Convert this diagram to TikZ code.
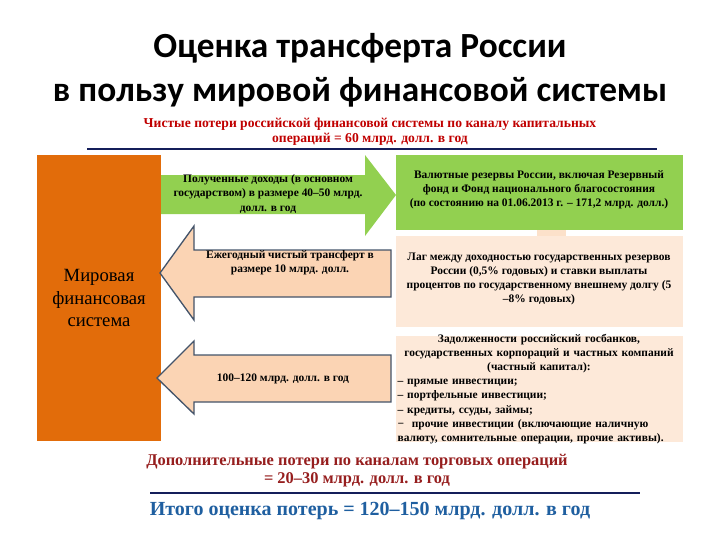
\documentclass[tikz,border=0pt]{standalone}
\usepackage{fontspec}
\setmainfont{Liberation Serif}
\newfontfamily\titlefont{Carlito}
\begin{document}
\begin{tikzpicture}[x=0.75pt,y=-0.75pt,
  txt/.style={font=\bfseries\fontsize{8.6}{10.6}\selectfont,align=center,inner sep=1pt},
  arrR/.style={fill=green1,draw=none},
  arrL/.style={fill=peach2,draw=arrline,line width=1pt}]
\definecolor{orange1}{RGB}{226,108,10}
\definecolor{green1}{RGB}{146,208,80}
\definecolor{peach1}{RGB}{253,233,217}
\definecolor{peach2}{RGB}{251,212,180}
\definecolor{arrline}{RGB}{68,84,106}
\definecolor{red1}{RGB}{192,0,0}
\definecolor{red2}{RGB}{150,30,30}
\definecolor{navy}{RGB}{20,30,90}
\definecolor{blue1}{RGB}{31,95,160}
\useasboundingbox (0,0) rectangle (720,540);
\node[font=\titlefont\bfseries\fontsize{26.5}{33}\selectfont,align=center] (title) at (360,70) {Оценка трансферта России\\в пользу мировой финансовой системы};
\node[font=\bfseries\fontsize{10.2}{11.5}\selectfont,text=red1,align=center] (sub) at (370,132) {Чистые потери российской финансовой системы по каналу капитальных\\операций = 60 млрд. долл. в год};
\draw[navy,line width=1.5pt] (87,149) -- (657,149);
\fill[orange1] (37,155) rectangle (161,441);
\node[font=\fontsize{14}{17}\selectfont,align=center] (world) at (99,298) {Мировая\\финансовая\\система};
% green arrow
\fill[arrR] (161,175) -- (365,175) -- (365,155) -- (396,195) -- (365,236) -- (365,214) -- (161,214) -- cycle;
\node[txt] (a1) at (268,194) {Полученные доходы (в основном\\государством) в размере 40–50 млрд.\\долл. в год};
\fill[green1] (396,155) rectangle (683,230);
\node[txt] (b1) at (539,190) {Валютные резервы России, включая Резервный\\фонд и Фонд национального благосостояния\\(по состоянию на 01.06.2013 г. – 171,2 млрд. долл.)};
\fill[peach2!70] (537,230) rectangle (566,244);
\fill[peach1] (396,236) rectangle (683,327);
\node[txt] (b2) at (539,279) {Лаг между доходностью государственных резервов\\России (0,5\% годовых) и ставки выплаты\\процентов по государственному внешнему долгу (5\\–8\% годовых)};
\draw[arrL] (160,273) -- (194,226) -- (194,250) -- (391,250) -- (391,297) -- (194,297) -- (194,320) -- cycle;
\node[txt] (a2) at (290,263) {Ежегодный чистый трансферт в\\размере 10 млрд. долл.};
\fill[peach1] (396,336) rectangle (683,442);
\node[txt,text width=212pt,align=left] (b3) at (539,389) {{\centering Задолженности российский госбанков,\\государственных корпораций и частных компаний\\(частный капитал):\par}
{\raggedright – прямые инвестиции;\\– портфельные инвестиции;\\– кредиты, ссуды, займы;\par}
\leftskip=0pt\rightskip=0pt\parfillskip=0pt plus 1fil − \ прочие инвестиции (включающие наличную валюту, сомнительные операции, прочие активы).};
\draw[arrL] (157,378) -- (194,341) -- (194,355) -- (391,355) -- (391,402) -- (194,402) -- (194,414) -- cycle;
\node[txt] (a3) at (283,379) {100–120 млрд. долл. в год};
\node[font=\bfseries\fontsize{12.3}{13.5}\selectfont,text=red2,align=center] (add) at (357,471) {Дополнительные потери по каналам торговых операций\\= 20–30 млрд. долл. в год};
\draw[navy,line width=1.5pt] (150,493) -- (640,493);
\node[font=\bfseries\fontsize{15}{17}\selectfont,text=blue1] (tot) at (370,511) {Итого оценка потерь = 120–150 млрд. долл. в год};
\end{tikzpicture}
\end{document}
